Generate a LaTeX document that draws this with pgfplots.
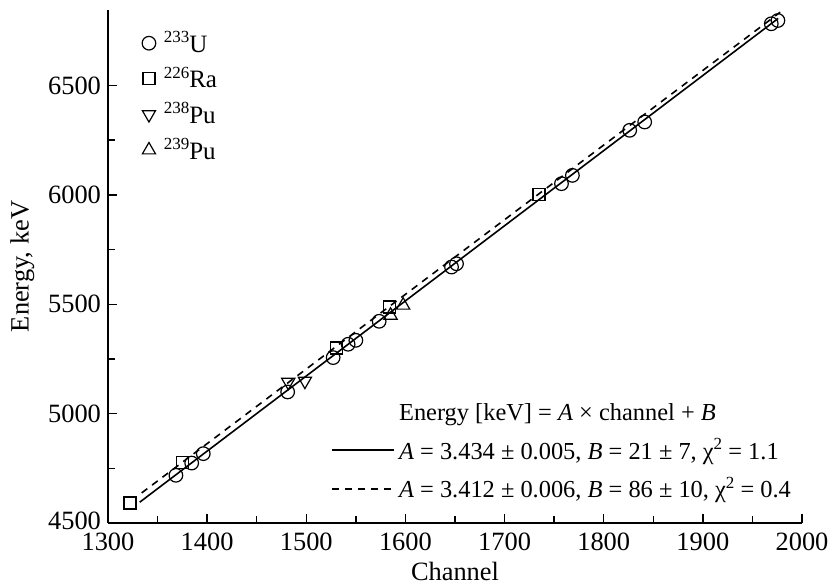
\documentclass[border=0pt]{standalone}
\usepackage{fontspec}
\setmainfont{Liberation Serif}
\usepackage{pgfplots}
\pgfplotsset{compat=1.18}
\newcommand\sups[1]{\raisebox{0.85ex}{\fontsize{8.5}{9}\selectfont #1}}

\begin{document}
\begin{tikzpicture}
\pgfplotsset{
  base/.style={
    width=347pt, height=256.5pt, scale only axis,
    xmin=1300, xmax=2000, ymin=4500, ymax=6845,
  }
}
\begin{axis}[base,
  axis x line*=bottom, axis y line*=left,
  axis line style={line width=0.8pt, -},
  xtick={1300,1400,...,2000}, ytick={4500,5000,...,6500},
  yticklabels={{\raisebox{2.5pt}{4500}},5000,5500,6000,6500},
  minor x tick num=1, minor y tick num=1,
  tick align=inside,
  major tick length=4.5pt, minor tick length=3.5pt,
  tick style={line width=0.7pt, black},
  /pgf/number format/assume math mode=true,
  /pgf/number format/1000 sep={},
  tick label style={font=\fontsize{13.2}{15}\selectfont},
  xticklabel style={yshift=-1.5pt},
  label style={font=\fontsize{13.2}{15}\selectfont},
  xlabel={Channel}, ylabel={Energy, keV},
  xlabel style={yshift=1pt},
  legend style={draw=none, fill=none, at={(axis description cs:0.04,0.975)}, anchor=north west,
    font=\fontsize{12.5}{14}\selectfont, row sep=1.8pt},
  legend cell align=left,
  legend image code/.code={\draw[mark repeat=2,mark phase=2,#1] plot coordinates {(0cm,0cm) (0.16cm,0cm) (0.32cm,0cm)};},
]
\coordinate (LL) at (rel axis cs:0,0);
\coordinate (UR) at (rel axis cs:1,1);
% 233U
\addplot[only marks, mark=o, mark size=3.4pt, black, line width=0.6pt] coordinates {
(1368.5,4718) (1384.4,4774) (1396.1,4817) (1481.2,5099) (1527.1,5256)
(1542.2,5317) (1550.0,5335) (1573.5,5422) (1646.5,5670) (1651.5,5685)
(1757.4,6051) (1768.4,6089) (1826.2,6295) (1841.3,6333) (1969.0,6782) (1975.7,6797)
};
\addlegendentry{\hspace{2pt}\sups{233}U}
% 226Ra
\addplot[only marks, mark=square, mark size=3pt, black, line width=0.6pt] coordinates {
(1322.2,4591) (1375.3,4777) (1530.5,5300) (1584.3,5487) (1734.8,6001)
};
\addlegendentry{\hspace{2pt}\sups{226}Ra}
% 238Pu
\addplot[only marks, mark=triangle, mark size=3.8pt, black, line width=0.6pt, mark options={rotate=180}] coordinates {
(1481.8,5144) (1498.6,5149)
};
\addlegendentry{\hspace{2pt}\sups{238}Pu}
% 239Pu
\addplot[only marks, mark=triangle, mark size=3.8pt, black, line width=0.6pt] coordinates {
(1585.0,5449) (1597.7,5495)
};
\addlegendentry{\hspace{2pt}\sups{239}Pu}
\end{axis}

\begin{axis}[base, hide axis,
  legend style={draw=none, fill=none, at={(axis description cs:0.999,0.027)}, anchor=south east,
    font=\fontsize{12.2}{13.5}\selectfont, row sep=3.4pt},
  legend cell align=left,
  legend image code/.code={\draw[#1] (0pt,0pt) -- (31pt,0pt);},
]
\addlegendimage{empty legend}
\addlegendentry{Energy [keV] = \textit{A} × channel + \textit{B}}
\addplot[black, line width=0.8pt] coordinates {(1332,4595.1) (1976,6806.6)};
\addlegendentry{\textit{A} = 3.434 ± 0.005, \textit{B} = 21 ± 7, χ\sups{2} = 1.1}
\addplot[black, line width=0.8pt, dash pattern=on 3.5pt off 3pt] coordinates {(1334,4637.6) (1978,6834.9)};
\addlegendentry{\textit{A} = 3.412 ± 0.006, \textit{B} = 86 ± 10, χ\sups{2} = 0.4}
\end{axis}
\pgfresetboundingbox
\path[use as bounding box] ([xshift=-54pt,yshift=-31.5pt]LL) rectangle ([xshift=15.5pt,yshift=5pt]UR);
\end{tikzpicture}
\end{document}
